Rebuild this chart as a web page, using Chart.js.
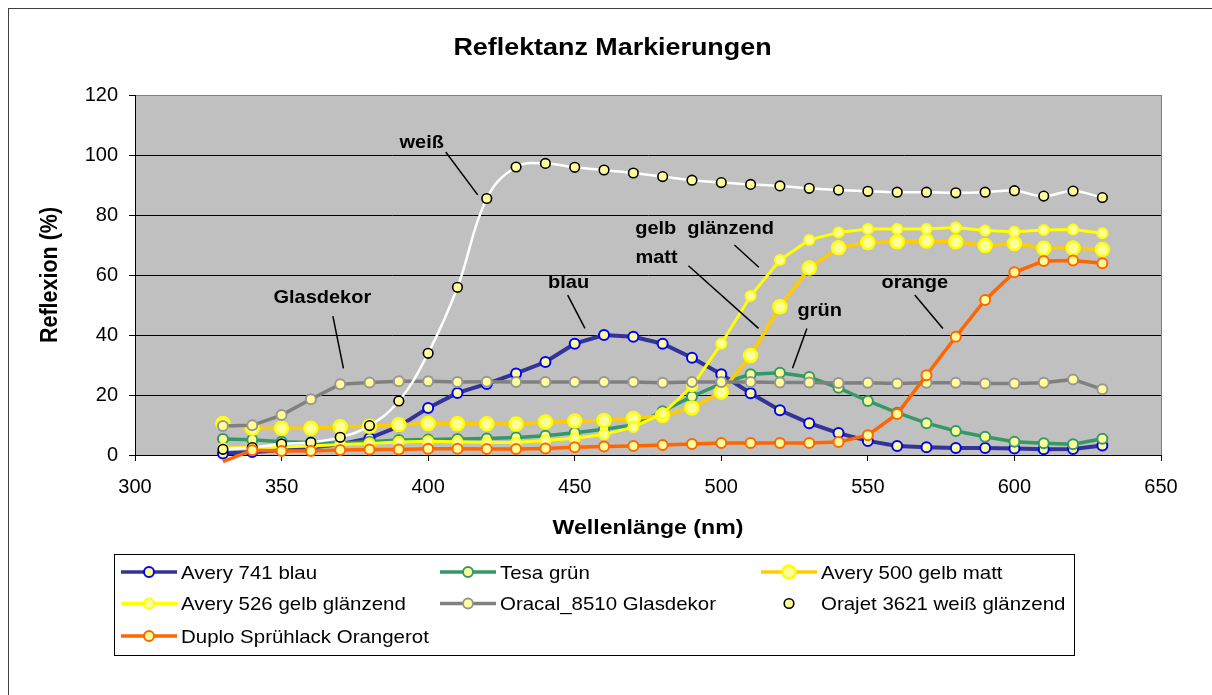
<!DOCTYPE html>
<html>
<head>
<meta charset="utf-8">
<script src="https://cdn.jsdelivr.net/npm/chart.js@4.4.1/dist/chart.umd.min.js"></script>
<style>
  html, body { margin: 0; padding: 0; background: #ffffff; }
  #wrap { width: 1212px; height: 695px; position: relative; }
</style>
</head>
<body>
<div id="wrap"><canvas id="c"></canvas></div>
<script>
// ---------- DATA ----------
const wavelengths = [330,340,350,360,370,380,390,400,410,420,430,440,450,460,470,480,490,500,510,520,530,540,550,560,570,580,590,600,610,620,630];

const averyBlau   = [0.5,1.0,1.6,2.5,3.6,5.6,9.5,15.7,20.7,23.7,27.2,31.0,37.1,40.0,39.4,37.1,32.4,26.9,20.6,14.9,10.6,7.3,4.7,3.0,2.6,2.3,2.3,2.2,1.9,2.0,3.2];
const tesaGruen   = [5.3,5.1,4.4,4.2,3.9,4.4,5.0,5.2,5.3,5.5,5.8,6.4,7.4,8.6,10.0,14.6,19.5,23.8,26.9,27.4,26.0,22.4,18.0,14.1,10.6,8.0,6.1,4.4,3.9,3.6,5.4];
const gelbMatt    = [10.5,8.9,8.9,8.9,9.4,9.6,10.1,10.5,10.4,10.4,10.3,11.0,11.3,11.5,12.2,13.2,15.7,21.0,33.2,49.4,62.3,69.1,70.8,71.1,71.3,71.1,69.8,70.5,68.9,69.0,68.5];
const gelbGlanz   = [2.3,2.5,2.7,3.0,3.5,3.8,4.3,4.6,4.4,4.2,4.2,4.8,5.6,6.8,9.3,13.8,22.9,37.1,53.0,65.0,71.7,74.2,75.3,75.3,75.3,75.8,74.8,74.4,75.0,75.2,73.9];
const glasdekor   = [9.7,9.9,13.3,18.6,23.6,24.2,24.6,24.6,24.3,24.4,24.3,24.3,24.3,24.3,24.3,24.1,24.3,24.3,24.3,24.2,24.2,24.0,24.1,23.8,24.1,24.1,23.8,23.8,24.1,25.2,21.9];
const weissGlanz  = [1.9,2.5,3.7,4.2,5.9,9.8,18.0,33.9,55.9,85.5,96.0,97.2,95.9,95.0,94.0,92.8,91.6,90.8,90.2,89.7,88.9,88.3,87.9,87.6,87.6,87.4,87.6,88.1,86.3,88.0,85.8];
const orangerot   = [-2.2,1.6,1.3,1.3,1.7,1.8,1.8,2.1,2.1,2.0,2.0,2.2,2.6,2.8,3.0,3.3,3.7,4.0,4.0,4.0,4.0,4.3,6.6,13.7,26.6,39.4,51.7,60.9,64.7,64.8,63.9];

const seriesLabels = ['Avery 741 blau','Tesa grün','Avery 500 gelb matt','Avery 526 gelb glänzend','Oracal_8510 Glasdekor','Orajet 3621 weiß glänzend','Duplo Sprühlack Orangerot'];

const xTicks = [300,350,400,450,500,550,600,650];
const yTicks = [0,20,40,60,80,100,120];

const chartTitle = 'Reflektanz Markierungen';
const xTitle = 'Wellenlänge (nm)';
const yTitle = 'Reflexion (%)';

// annotation labels (positions in data units)
const annoTexts = ['weiß','Glasdekor','blau','gelb  glänzend','matt','grün','orange'];
const annoAt    = [[397.8,104],[363.9,52.2],[447.9,57.2],[494.3,75.2],[477.9,65.7],[533.6,48.0],[566.0,57.4]];
const annoLines = [
  [[406.0,101.0],[416.9,86.7]],
  [[367.5,46.3],[371.1,28.9]],
  [[447.6,53.3],[453.5,42.2]],
  [[504.5,70.0],[512.8,62.6]],
  [[488.8,63.1],[512.7,42.2]],
  [[529.2,42.2],[524.3,28.9]],
  [[566.0,53.3],[575.6,42.2]]
];

// ---------- STYLES ----------
const styles = [
  {line:'#333399', pb:'#0000FF', pf:'#FFFF99', lw:4,   r:5,   bw:2,   tension:0},
  {line:'#339966', pb:'#339966', pf:'#FFFF99', lw:3.5, r:5,   bw:2,   tension:0},
  {line:'#FFCC00', pb:'#FFFF00', pf:'#FFFF99', lw:3.5, r:6.5, bw:2.5, tension:0},
  {line:'#FFFF00', pb:'#FFFF00', pf:'#FFFF99', lw:3,   r:5,   bw:2,   tension:0},
  {line:'#808080', pb:'#969696', pf:'#FFFF99', lw:3.5, r:5,   bw:2,   tension:0},
  {line:'#FFFFFF', pb:'#000000', pf:'#FFFF99', lw:2.5, r:4.8, bw:1.6, tension:0.4},
  {line:'#FF6600', pb:'#FF6600', pf:'#FFFF99', lw:3.5, r:5,   bw:2,   tension:0}
];

const seriesValues = [averyBlau, tesaGruen, gelbMatt, gelbGlanz, glasdekor, weissGlanz, orangerot];

const FONT = "'Liberation Sans', Arial, Helvetica, sans-serif";
Chart.defaults.font.family = FONT;
Chart.defaults.color = '#000000';

const datasets = seriesValues.map((vals, i) => ({
  label: seriesLabels[i],
  data: wavelengths.map((w, j) => ({x: w, y: vals[j]})),
  borderColor: styles[i].line,
  backgroundColor: styles[i].line,
  borderWidth: styles[i].lw,
  legendRadius: styles[i].r,
  pointRadius: c => (c.raw && c.raw.y < yTicks[0]) ? 0 : styles[i].r,
  pointBorderWidth: styles[i].bw,
  pointBorderColor: styles[i].pb,
  pointBackgroundColor: styles[i].pf,
  pointHoverRadius: styles[i].r,
  tension: styles[i].tension,
  clip: false,
  order: 20 - i,
  fill: false
}));

function stretchText(ctx, text, x, y, font, sx, align, baseline, rot) {
  ctx.save();
  ctx.translate(x, y);
  ctx.scale(sx, 1);
  if (rot) ctx.rotate(rot);
  ctx.font = font;
  ctx.textAlign = align;
  ctx.textBaseline = baseline;
  ctx.fillStyle = '#000000';
  ctx.fillText(text, 0, 0);
  ctx.restore();
}

const decor = {
  id: 'decor',
  beforeDraw(chart) {
    const ctx = chart.ctx, a = chart.chartArea;
    ctx.save();
    ctx.fillStyle = '#ffffff';
    ctx.fillRect(0, 0, chart.width, chart.height);
    ctx.strokeStyle = '#404040';
    ctx.lineWidth = 1;
    ctx.strokeRect(8.5, 8.5, 1400, 900);
    ctx.fillStyle = '#C0C0C0';
    ctx.fillRect(a.left, a.top, a.right - a.left, a.bottom - a.top);
    ctx.restore();
  },
  afterDraw(chart) {
    const ctx = chart.ctx, a = chart.chartArea;
    const xs = chart.scales.x, ys = chart.scales.y;
    ctx.save();
    ctx.strokeStyle = '#808080';
    ctx.lineWidth = 1;
    ctx.beginPath();
    ctx.moveTo(Math.round(a.right) + 0.5, a.top);
    ctx.lineTo(Math.round(a.right) + 0.5, a.bottom);
    ctx.stroke();
    ctx.restore();

    stretchText(ctx, chartTitle, 612.5, 55, "bold 24px " + FONT, 1.12, 'center', 'alphabetic');
    stretchText(ctx, xTitle, (a.left + a.right) / 2, 534, "bold 21px " + FONT, 1.1, 'center', 'alphabetic');
    stretchText(ctx, yTitle, 57, (a.top + a.bottom) / 2, "bold 21.5px " + FONT, 1.1, 'center', 'alphabetic', -Math.PI / 2);

    ctx.save();
    ctx.strokeStyle = '#000000';
    ctx.lineWidth = 1.5;
    annoLines.forEach(seg => {
      ctx.beginPath();
      ctx.moveTo(xs.getPixelForValue(seg[0][0]), ys.getPixelForValue(seg[0][1]));
      ctx.lineTo(xs.getPixelForValue(seg[1][0]), ys.getPixelForValue(seg[1][1]));
      ctx.stroke();
    });
    ctx.restore();
    annoTexts.forEach((t, i) => {
      stretchText(ctx, t, xs.getPixelForValue(annoAt[i][0]), ys.getPixelForValue(annoAt[i][1]),
        "bold 18.5px " + FONT, 1.08, 'center', 'middle');
    });

    const colX = [121, 440, 761];
    const rowY = [572, 603.5, 636];
    ctx.save();
    ctx.strokeStyle = '#000000';
    ctx.lineWidth = 1;
    ctx.strokeRect(114.5, 554.5, 960, 101);
    ctx.restore();
    chart.data.datasets.forEach((ds, i) => {
      const x0 = colX[i % 3], y0 = rowY[Math.floor(i / 3)];
      ctx.save();
      ctx.strokeStyle = ds.borderColor;
      ctx.lineWidth = 3.5;
      ctx.beginPath();
      ctx.moveTo(x0, y0);
      ctx.lineTo(x0 + 56, y0);
      ctx.stroke();
      ctx.beginPath();
      ctx.arc(x0 + 28, y0, ds.legendRadius, 0, Math.PI * 2);
      ctx.fillStyle = ds.pointBackgroundColor;
      ctx.fill();
      ctx.lineWidth = ds.pointBorderWidth;
      ctx.strokeStyle = ds.pointBorderColor;
      ctx.stroke();
      ctx.restore();
      stretchText(ctx, ds.label, x0 + 60, y0 + 6.8, "18.6px " + FONT, 1.1, 'left', 'alphabetic');
    });
  }
};

new Chart(document.getElementById('c'), {
  type: 'line',
  data: { datasets },
  plugins: [decor],
  options: {
    responsive: true,
    maintainAspectRatio: false,
    animation: false,
    events: [],
    layout: { padding: { left: 0, top: 95, right: 51, bottom: 200 } },
    plugins: { legend: { display: false }, title: { display: false }, tooltip: { enabled: false } },
    scales: {
      x: {
        type: 'linear',
        min: xTicks[0],
        max: xTicks[xTicks.length - 1],
        afterBuildTicks(scale) { scale.ticks = xTicks.map(v => ({value: v})); },
        afterFit(scale) { scale.height = 40; },
        ticks: { font: { size: 20 }, color: '#000', padding: 14, maxRotation: 0, autoSkip: false },
        grid: { drawOnChartArea: false, drawTicks: true, tickLength: 6, tickColor: '#000', tickWidth: 1 },
        border: { display: true, color: '#000', width: 1 }
      },
      y: {
        min: yTicks[0],
        max: yTicks[yTicks.length - 1],
        afterBuildTicks(scale) { scale.ticks = yTicks.map(v => ({value: v})); },
        afterFit(scale) { scale.width = 135; },
        ticks: { font: { size: 20 }, color: '#000', padding: 11 },
        grid: {
          color: ctx => (ctx.tick && ctx.tick.value === 120) ? '#808080' : '#000000',
          lineWidth: 1, drawTicks: true, tickLength: 6, tickColor: '#000', tickWidth: 1
        },
        border: { display: true, color: '#000', width: 1 }
      }
    }
  }
});
</script>
</body>
</html>
